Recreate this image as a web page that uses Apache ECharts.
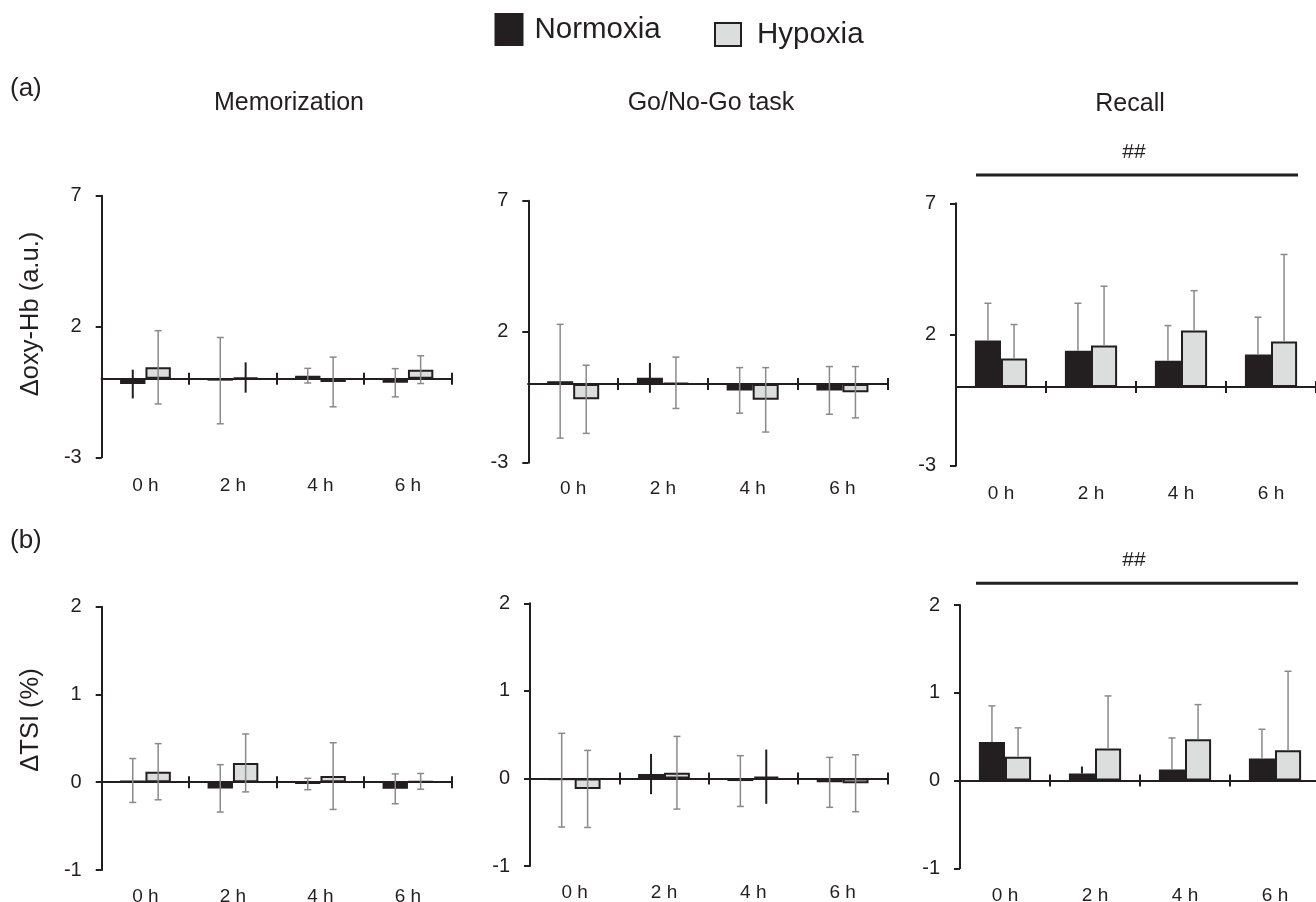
<!DOCTYPE html>
<html><head><meta charset="utf-8">
<script src="https://cdn.jsdelivr.net/npm/echarts@6/dist/echarts.min.js"></script>
<style>html,body{margin:0;padding:0;background:#fff}#c{width:1316px;height:902px}</style>
</head><body><div id="c"></div>
<script>
// ---------- data ----------
const categories = ['0 h', '2 h', '4 h', '6 h'];
const groupNames = ['Normoxia', 'Hypoxia'];
const panelTitles = ['Memorization', 'Go/No-Go task', 'Recall'];
const oxyTickValues = [-3, 2, 7];
const tsiTickValues = [-1, 0, 1, 2];

// (a) Δoxy-Hb
const oxyMemN = [-0.20, -0.07, 0.12, -0.15];
const oxyMemNsd = [0.55, 1.65, 0.28, 0.54];
const oxyMemH = [0.44, 0.05, -0.12, 0.35];
const oxyMemHsd = [1.40, 0.58, 0.95, 0.53];
const oxyGoN = [0.11, 0.24, -0.24, -0.24];
const oxyGoNsd = [2.17, 0.57, 0.87, 0.91];
const oxyGoH = [-0.58, 0.05, -0.60, -0.31];
const oxyGoHsd = [1.30, 0.98, 1.23, 0.98];
const oxyRecN = [1.77, 1.38, 1.00, 1.24];
const oxyRecNsd = [1.42, 1.81, 1.34, 1.42];
const oxyRecH = [1.09, 1.58, 2.15, 1.73];
const oxyRecHsd = [1.29, 2.26, 1.52, 3.32];

// (b) ΔTSI
const tsiMemN = [0.02, -0.07, -0.02, -0.075];
const tsiMemNsd = [0.25, 0.27, 0.065, 0.17];
const tsiMemH = [0.12, 0.22, 0.07, 0.01];
const tsiMemHsd = [0.32, 0.33, 0.38, 0.09];
const tsiGoN = [-0.02, 0.05, -0.03, -0.045];
const tsiGoNsd = [0.535, 0.23, 0.29, 0.285];
const tsiGoH = [-0.12, 0.065, 0.02, -0.055];
const tsiGoHsd = [0.44, 0.415, 0.31, 0.325];
const tsiRecN = [0.44, 0.08, 0.125, 0.25];
const tsiRecNsd = [0.41, 0.08, 0.36, 0.334];
const tsiRecH = [0.27, 0.364, 0.47, 0.345];
const tsiRecHsd = [0.33, 0.60, 0.395, 0.90];

// error bars drawn plain black (group index, category index)
const oxyMemPlain = [[0, 0], [1, 1]];
const oxyGoPlain = [[0, 1]];
const oxyRecPlain = [];
const tsiMemPlain = [];
const tsiGoPlain = [[0, 1], [1, 2]];
const tsiRecPlain = [[0, 1]];

// ---------- layout / style ----------
const FONT = 'Liberation Sans, Arial, sans-serif';
const INK = '#231f20';
const ERR = '#8a8a8a';
const GAP = 0.42;

const panels = [
  {n: oxyMemN, nsd: oxyMemNsd, h: oxyMemH, hsd: oxyMemHsd, plain: oxyMemPlain, ticks: oxyTickValues, oneSided: false},
  {n: oxyGoN, nsd: oxyGoNsd, h: oxyGoH, hsd: oxyGoHsd, plain: oxyGoPlain, ticks: oxyTickValues, oneSided: false},
  {n: oxyRecN, nsd: oxyRecNsd, h: oxyRecH, hsd: oxyRecHsd, plain: oxyRecPlain, ticks: oxyTickValues, oneSided: true},
  {n: tsiMemN, nsd: tsiMemNsd, h: tsiMemH, hsd: tsiMemHsd, plain: tsiMemPlain, ticks: tsiTickValues, oneSided: false},
  {n: tsiGoN, nsd: tsiGoNsd, h: tsiGoH, hsd: tsiGoHsd, plain: tsiGoPlain, ticks: tsiTickValues, oneSided: false},
  {n: tsiRecN, nsd: tsiRecNsd, h: tsiRecH, hsd: tsiRecHsd, plain: tsiRecPlain, ticks: tsiTickValues, oneSided: true}
];
const gridPos = [
  {left: 101.7, top: 195.7, width: 350, height: 261.6},
  {left: 528.3, top: 200.7, width: 359, height: 262},
  {left: 956, top: 203.3, width: 360, height: 262.4},
  {left: 101.7, top: 606.7, width: 350, height: 263.3},
  {left: 530, top: 603.3, width: 357.3, height: 262.7},
  {left: 960, top: 605, width: 360, height: 263.3}
];
const labelMargin = [19, 17, 19, 17, 17, 18];

const grids = [], xAxes = [], yAxes = [], series = [];
panels.forEach((p, i) => {
  grids.push(Object.assign({containLabel: false, outerBoundsMode: 'none'}, gridPos[i]));
  const t = p.ticks;
  yAxes.push({
    type: 'value', gridIndex: i, min: t[0], max: t[t.length - 1], interval: t[1] - t[0],
    axisLine: {show: true, lineStyle: {color: INK, width: 2}},
    axisTick: {show: true, length: 6, lineStyle: {color: INK, width: 2}},
    splitLine: {show: false},
    axisLabel: {margin: 20, fontSize: 20, color: INK, fontFamily: FONT}
  });
  // label axis at bottom
  xAxes.push({
    type: 'category', gridIndex: i, data: categories, position: 'bottom',
    axisLine: {show: false, onZero: false}, axisTick: {show: false},
    axisLabel: {margin: labelMargin[i], fontSize: 19, color: INK, fontFamily: FONT}
  });
  // zero line with downward ticks
  xAxes.push({
    type: 'category', gridIndex: i, data: categories, position: 'bottom',
    axisLine: {show: true, onZero: true, onZeroAxisIndex: i, lineStyle: {color: INK, width: 2}},
    axisTick: {show: true, length: 6, lineStyle: {color: INK, width: 2}},
    axisLabel: {show: false}
  });
  // zero line with upward ticks
  xAxes.push({
    type: 'category', gridIndex: i, data: categories, position: 'bottom',
    axisLine: {show: true, onZero: true, onZeroAxisIndex: i, lineStyle: {color: INK, width: 2}},
    axisTick: {show: true, inside: true, length: 6, lineStyle: {color: INK, width: 2}},
    axisLabel: {show: false}
  });
  const xi = 3 * i;
  series.push({
    type: 'bar', name: groupNames[0], xAxisIndex: xi, yAxisIndex: i, data: p.n,
    barGap: '0%', barCategoryGap: (GAP * 100) + '%',
    itemStyle: {color: INK, borderColor: INK, borderWidth: 1.5}, z: 2
  });
  series.push({
    type: 'bar', name: groupNames[1], xAxisIndex: xi, yAxisIndex: i, data: p.h,
    barGap: '0%', barCategoryGap: (GAP * 100) + '%',
    itemStyle: {color: '#dcdddd', borderColor: INK, borderWidth: 2}, z: 2
  });
  const errData = [];
  [p.n, p.h].forEach((arr, g) => {
    const sds = g === 0 ? p.nsd : p.hsd;
    arr.forEach((m, c) => {
      const plain = p.plain.some(q => q[0] === g && q[1] === c) ? 1 : 0;
      errData.push([c, m, sds[c], g, plain]);
    });
  });
  const oneSided = p.oneSided;
  series.push({
    type: 'custom', xAxisIndex: xi, yAxisIndex: i, z: 5, data: errData,
    renderItem: function (params, api) {
      const c = api.value(0), m = api.value(1), sd = api.value(2), g = api.value(3), plain = api.value(4);
      const band = api.size([1, 0])[0];
      const bw = band * (1 - GAP) / 2;
      const cx = api.coord([c, 0])[0] + (g === 0 ? -bw / 2 : bw / 2);
      const yTop = api.coord([c, m + sd])[1];
      const yBot = api.coord([c, oneSided ? m : m - sd])[1];
      const col = plain ? INK : ERR;
      const lw = plain ? 2 : 1.5;
      const children = [{type: 'line', shape: {x1: cx, y1: yTop, x2: cx, y2: yBot}, style: {stroke: col, lineWidth: lw}}];
      if (!plain) {
        children.push({type: 'line', shape: {x1: cx - 3.5, y1: yTop, x2: cx + 3.5, y2: yTop}, style: {stroke: col, lineWidth: 1.5}});
        if (!oneSided) children.push({type: 'line', shape: {x1: cx - 3.5, y1: yBot, x2: cx + 3.5, y2: yBot}, style: {stroke: col, lineWidth: 1.5}});
      }
      return {type: 'group', children: children};
    }
  });
});

function txt(text, x, y, size, align, rot) {
  return {type: 'text', x: x, y: y, rotation: rot || 0, silent: true,
    style: {text: text, fontSize: size, fontFamily: FONT, fill: INK,
      align: align, verticalAlign: 'middle', textAlign: align, textVerticalAlign: 'middle'}};
}
const graphics = [
  txt('(a)', 10, 89, 26, 'left'),
  txt('(b)', 10, 541, 26, 'left'),
  txt(panelTitles[0], 289, 103, 25, 'center'),
  txt(panelTitles[1], 711, 103, 25, 'center'),
  txt(panelTitles[2], 1130, 104, 25, 'center'),
  txt('##', 1134, 152, 21, 'center'),
  txt('##', 1134, 560, 21, 'center'),
  txt('\u0394oxy-Hb (a.u.)', 31, 314, 25.5, 'center', Math.PI / 2),
  txt('\u0394TSI (%)', 31, 720, 25.5, 'center', Math.PI / 2),
  {type: 'line', silent: true, shape: {x1: 976, y1: 175, x2: 1298, y2: 175}, style: {stroke: INK, lineWidth: 3}},
  {type: 'line', silent: true, shape: {x1: 976, y1: 583.3, x2: 1298, y2: 583.3}, style: {stroke: INK, lineWidth: 3}}
];

const legendTextN = {fontSize: 29.5, fontFamily: FONT, color: INK, padding: [0, 0, 0, 7], lineHeight: 31};
const legendTextH = {fontSize: 29.5, fontFamily: FONT, color: INK, padding: [0, 0, 0, 11], lineHeight: 31};
const chart = echarts.init(document.getElementById('c'), null, {renderer: 'canvas'});
chart.setOption({
  backgroundColor: '#ffffff',
  animation: false,
  textStyle: {fontFamily: FONT},
  legend: [
    {data: [groupNames[0]], left: 489.5, top: 8, icon: 'rect', itemWidth: 27, itemHeight: 31,
      selectedMode: false, textStyle: legendTextN},
    {data: [groupNames[1]], left: 709, top: 14, icon: 'rect', itemWidth: 26, itemHeight: 23,
      selectedMode: false, textStyle: legendTextH}
  ],
  grid: grids,
  xAxis: xAxes,
  yAxis: yAxes,
  series: series,
  graphic: graphics
});
</script></body></html>
